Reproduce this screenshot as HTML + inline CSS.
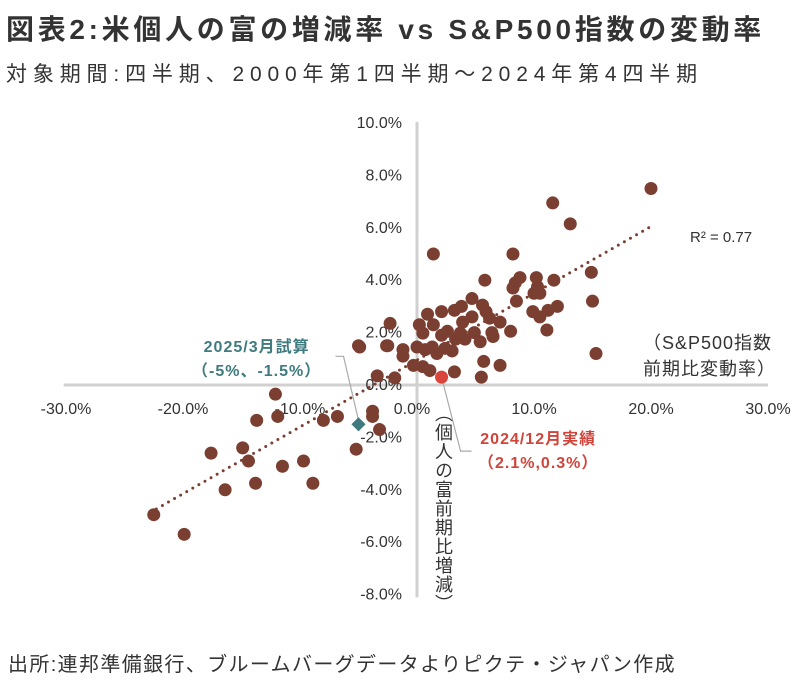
<!DOCTYPE html>
<html><head><meta charset="utf-8">
<style>
body{margin:0;background:#fff;width:799px;height:684px;overflow:hidden;font-family:"Liberation Sans","Noto Sans CJK JP",sans-serif;}
.t{position:absolute;white-space:nowrap;}
</style></head><body>
<div class="t fit" data-w="759" style="left:6px;top:8px;font-size:28px;font-weight:bold;color:#333;">図表2:米個人の富の増減率 vs S&amp;P500指数の変動率</div>
<div class="t fit" data-w="697" style="left:6px;top:58px;font-size:21px;color:#333;">対象期間:四半期、2000年第1四半期～2024年第4四半期</div>
<div class="t fit" data-w="668" style="left:8px;top:648px;font-size:20px;color:#333;">出所:連邦準備銀行、ブルームバーグデータよりピクテ・ジャパン作成</div>
<svg id="chart" width="799" height="684" style="position:absolute;left:0;top:0" xmlns="http://www.w3.org/2000/svg"></svg>
<div class="t" style="left:643px;top:330px;font-size:18px;color:#333;line-height:26px;letter-spacing:1px;">（S&amp;P500指数<br>前期比変動率）</div>
<div class="t" style="left:430px;top:404px;font-size:18px;color:#333;writing-mode:vertical-rl;letter-spacing:1px;">（個人の富前期比増減）</div>
<div class="t" style="left:690px;top:229px;font-size:15px;color:#333;">R² = 0.77</div>
<div class="t" style="left:192px;top:336px;font-size:16px;font-weight:bold;color:#3f7a7e;line-height:24px;text-align:center;letter-spacing:1px;">2025/3月試算<br>（-5%、-1.5%）</div>
<div class="t" style="left:478px;top:428px;font-size:16px;font-weight:bold;color:#d0453b;line-height:24px;text-align:center;letter-spacing:1px;">2024/12月実績<br>（2.1%,0.3%）</div>
<script>
const xVals=[11.6,13.1,1.4,8.2,5.8,8.8,8.4,8.2,10.2,11.7,14.9,10.3,10.5,10,8.5,15,12,11.2,9.9,10.5,11.1,15.3,4.7,5.6,5.9,6.2,4.7,3.8,3.2,2.1,0.9,3.9,1.4,0.2,7.1,6.4,8,6.5,2.6,2.1,3.7,4.9,3.3,4.1,5.4,0.5,-2.3,-2.5,-4.9,-1.2,-1.2,0,1.3,0.7,1.7,2.4,3.0,-0.3,0.5,1.1,5.7,7.1,3.2,5.5,-3.4,-1.9,-5.0,-2.6,-12.1,-13.7,-11.9,-8.0,-6.8,-3.8,-3.8,-3.2,-5.2,-17.6,-14.9,-14.4,-11.5,-9.7,-16.4,-13.8,-8.9,-22.5,-19.9,20.0];
const yVals=[6.95,6.15,5.0,5.0,4.0,4.1,3.9,3.7,4.1,4.0,4.3,3.75,3.5,3.5,3.2,3.2,3.0,2.85,2.8,2.6,2.1,1.2,3.3,3.05,2.8,2.55,2.6,3.0,2.85,2.8,2.7,2.4,2.3,2.3,2.4,2.0,2.05,1.85,2.05,1.9,1.98,2.0,1.75,1.75,1.65,1.98,2.35,1.5,1.45,1.35,1.1,1.45,1.45,1.35,1.2,1.4,1.3,0.75,0.7,0.55,0.9,0.75,0.5,0.3,0.35,0.27,1.5,1.5,-0.35,-1.35,-1.2,-1.35,-1.2,-1.0,-1.2,-1.7,-2.45,-2.6,-2.4,-2.9,-3.1,-2.9,-4.0,-3.75,-3.75,-4.95,-5.7,7.5];
const actualPoint=[2.1,0.3];
const estimatePoint=[-5,-1.5];
const xTicks=[-30,-20,-10,0,10,20,30];
const yTicks=[-8,-6,-4,-2,0,2,4,6,8,10];
const trend=[0.255,0.95];
const trendRange=[-22.8,20];
document.querySelectorAll('.fit').forEach(el=>{const w=+el.dataset.w;const n=el.textContent.length;const cur=el.getBoundingClientRect().width;el.style.letterSpacing=((w-cur)/n)+'px';});
const NS="http://www.w3.org/2000/svg";
const svg=document.getElementById('chart');
const sx=v=>417+v*11.7, sy=v=>385-v*26.2;
function mk(tag,at){const e=document.createElementNS(NS,tag);for(const k in at)e.setAttribute(k,at[k]);svg.appendChild(e);return e;}
let l=mk('line',{x1:sx(-30.2),x2:sx(30),y1:sy(0),y2:sy(0),stroke:'#d0d0d0','stroke-width':3});


l=mk('line',{x1:417,x2:417,y1:sy(10.05),y2:sy(-8.1),stroke:'#d0d0d0','stroke-width':3});


xTicks.forEach(v=>{const t=mk('text',{x:sx(v)+(v===0?-5:0),y:414,'text-anchor':'middle','font-size':16,fill:'#333','font-family':'Liberation Sans,sans-serif'});t.textContent=v.toFixed(1)+'%';

});
yTicks.forEach(v=>{const t=mk('text',{x:402,y:sy(v)+5,'text-anchor':'end','font-size':16,fill:'#333','font-family':'Liberation Sans,sans-serif'});t.textContent=v.toFixed(1)+'%';

});
l=mk('line',{x1:sx(trendRange[0]),y1:sy(trend[0]*trendRange[0]+trend[1]),x2:sx(trendRange[1]),y2:sy(trend[0]*trendRange[1]+trend[1]),stroke:'#7b3f32','stroke-width':3,'stroke-dasharray':'0 7','stroke-linecap':'round'});


xVals.forEach((v,i)=>{const c=mk('circle',{cx:sx(v),cy:sy(yVals[i]),r:6.5,fill:'#7b3f32'});

});
const ax=sx(actualPoint[0]),ay=sy(actualPoint[1]);
l=mk('polyline',{points:`${ax},${ay} ${ax+19},${ay+74} ${ax+30},${ay+74}`,fill:'none',stroke:'#aaa','stroke-width':1.2});


let c=mk('circle',{cx:ax,cy:ay,r:6.5,fill:'#d9453b'});


const ex=sx(estimatePoint[0]),ey=sy(estimatePoint[1]);
l=mk('polyline',{points:`${ex-23},${ey-68} ${ex-15},${ey-68} ${ex},${ey-4}`,fill:'none',stroke:'#aaa','stroke-width':1.2});


const d=mk('rect',{x:ex-5,y:ey-5,width:10,height:10,fill:'#3f7a7e',transform:`rotate(45 ${ex} ${ey})`});


</script>
</body></html>
